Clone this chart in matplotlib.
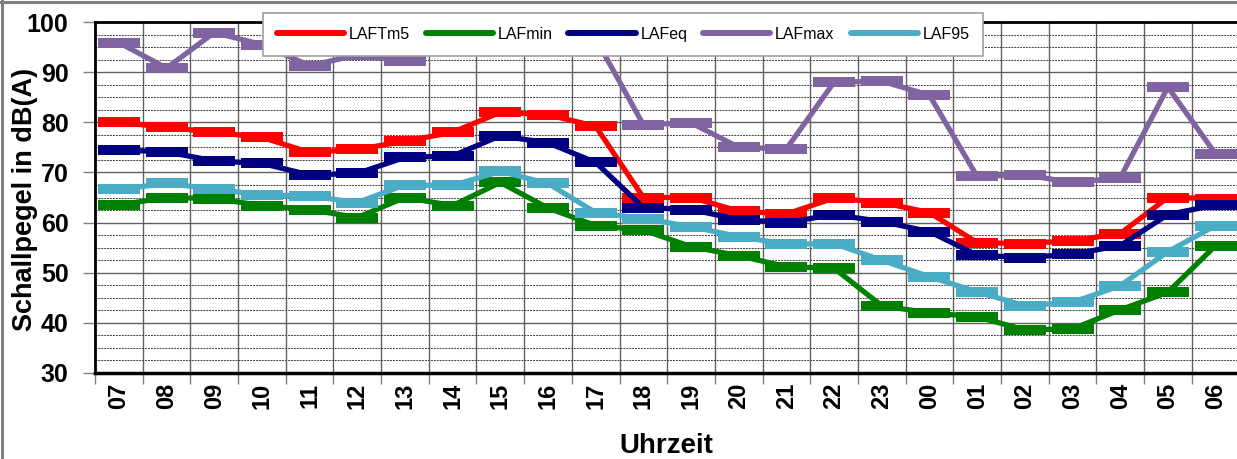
import numpy as np
import matplotlib
matplotlib.use("Agg")
import matplotlib.pyplot as plt
from matplotlib.path import Path
from matplotlib.lines import Line2D
from matplotlib.ticker import FixedLocator, NullFormatter

hours = ["07", "08", "09", "10", "11", "12", "13", "14", "15", "16", "17", "18",
         "19", "20", "21", "22", "23", "00", "01", "02", "03", "04", "05", "06"]

laftm5 = [80.0, 79.0, 78.0, 77.0, 74.0, 74.6, 76.2, 78.0, 82.0, 81.5, 79.2, 65.0,
          65.0, 62.3, 61.7, 64.9, 64.0, 62.0, 56.0, 55.8, 56.4, 57.8, 65.0, 64.8]
lafmin = [63.5, 65.0, 64.8, 63.4, 62.6, 61.0, 65.0, 63.4, 68.0, 62.9, 59.4, 58.5,
          55.2, 53.4, 51.2, 50.9, 43.4, 42.0, 41.2, 38.6, 38.8, 42.6, 46.1, 55.4]
lafeq = [74.5, 74.1, 72.3, 71.8, 69.5, 69.8, 73.0, 73.3, 77.3, 75.9, 72.0, 63.0,
         62.6, 60.6, 60.0, 61.6, 60.2, 58.2, 53.5, 53.0, 53.7, 55.4, 61.6, 63.5]
lafmax = [95.9, 90.8, 97.9, 95.5, 91.3, 93.4, 92.2, 96.5, 99.0, 98.0, 96.7, 79.5,
          79.9, 75.0, 74.7, 88.0, 88.2, 85.4, 69.2, 69.5, 68.0, 68.9, 87.0, 73.7]
laf95 = [66.6, 67.8, 66.7, 65.5, 65.3, 64.0, 67.5, 67.4, 70.2, 67.8, 62.0, 60.8,
         59.2, 57.2, 55.7, 55.8, 52.5, 49.2, 46.2, 43.4, 44.1, 47.4, 54.2, 59.4]

series = [("LAFTm5", laftm5, "#ff0000"),
          ("LAFmin", lafmin, "#008000"),
          ("LAFeq", lafeq, "#000080"),
          ("LAFmax", lafmax, "#8064a2"),
          ("LAF95", laf95, "#4bacc6")]

FONT = "Liberation Sans"
plt.rcParams["font.family"] = [FONT, "DejaVu Sans"]

W, H = 1237, 459
fig = plt.figure(figsize=(W / 100, H / 100), dpi=100)
fig.patch.set_facecolor("white")

left, right, top, bottom = 95, 1239.4, 22, 373
ax = fig.add_axes([left / W, 1 - bottom / H, (right - left) / W, (bottom - top) / H])

rect = Path([(-1, -0.23), (1, -0.23), (1, 0.23), (-1, 0.23), (-1, -0.23)],
            [Path.MOVETO, Path.LINETO, Path.LINETO, Path.LINETO, Path.CLOSEPOLY])

x = np.arange(len(hours))
for i, (name, vals, col) in enumerate(series):
    ax.plot(x, vals, color=col, lw=3.8, marker=rect, markersize=30,
            markeredgewidth=0, markerfacecolor=col, solid_joinstyle="round",
            zorder=3 + i, label=name)

ax.set_xlim(-0.5, len(hours) - 0.5)
ax.set_ylim(30, 100)

ax.xaxis.set_major_locator(FixedLocator(np.arange(len(hours) + 1) - 0.5))
ax.xaxis.set_major_formatter(NullFormatter())
ax.xaxis.set_minor_locator(FixedLocator(x))
ax.set_xticklabels(hours, minor=True, rotation=90, fontsize=17, fontweight="bold")
ax.tick_params(axis="x", which="major", length=8, width=1, color="#808080", direction="out")
ax.tick_params(axis="x", which="minor", length=0, pad=7)

ax.yaxis.set_major_locator(FixedLocator(np.arange(30, 101, 10)))
ax.yaxis.set_minor_locator(FixedLocator(np.arange(30, 100.1, 2.5)))
ax.tick_params(axis="y", which="major", length=9, width=1, color="#808080",
               labelsize=18, pad=10)
ax.tick_params(axis="y", which="minor", length=0)
for lab in ax.get_yticklabels():
    lab.set_fontweight("bold")

ax.grid(True, which="major", axis="x", color="#606060", lw=1, zorder=1)
ax.grid(True, which="major", axis="y", color="#606060", lw=1, zorder=1)
ax.grid(True, which="minor", axis="y", color="#404040", lw=0.7,
        linestyle=(0, (2, 1)), zorder=1)
ax.set_axisbelow(True)

for s in ["left", "top"]:
    ax.spines[s].set_linewidth(2)
ax.spines["bottom"].set_linewidth(2.5)
ax.spines["right"].set_visible(False)
for s in ax.spines.values():
    s.set_color("black")

fig.text(25 / W, 1 - 199 / H, "Schallpegel in dB(A)", rotation=90, ha="center",
         va="center", fontsize=19.5, fontweight="bold")
fig.text(666.5 / W, 1 - 453 / H, "Uhrzeit", ha="center", va="baseline",
         fontsize=20, fontweight="bold")

handles = [Line2D([], [], color=c, lw=4.3, solid_capstyle="round") for _, _, c in series]
leg = fig.legend(handles, [n for n, _, _ in series], loc="center",
                 bbox_to_anchor=(623 / W, 1 - 34.5 / H), ncol=5, frameon=True,
                 fancybox=False, framealpha=1, fontsize=11.5, handlelength=4.2,
                 handletextpad=0.3, columnspacing=1.0, borderpad=0.85)
leg.get_frame().set_edgecolor("#a0a0a0")
leg.get_frame().set_linewidth(1.2)
leg.set_zorder(20)

fig.add_artist(Line2D([1.5 / W, 1.5 / W], [0, 1], transform=fig.transFigure,
                      color="#808080", lw=2.2))
fig.add_artist(Line2D([0, 1], [1 - 1.5 / H, 1 - 1.5 / H], transform=fig.transFigure,
                      color="#808080", lw=2.2))

fig.savefig("out.png", dpi=100)
